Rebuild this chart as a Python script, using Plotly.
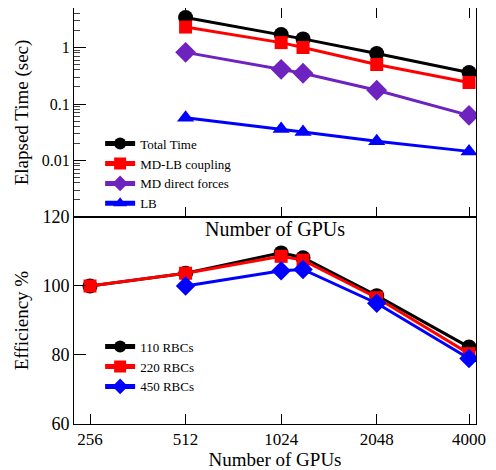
import plotly.graph_objects as go

# ---- data ----
gpus_time = [512, 1024, 1200, 2048, 4000]
total_time = [3.4, 1.7, 1.42, 0.78, 0.36]
mdlb_coupling = [2.3, 1.22, 1.0, 0.5, 0.24]
md_direct = [0.82, 0.41, 0.35, 0.175, 0.063]
lb_time = [0.057, 0.036, 0.032, 0.022, 0.0145]

gpus_eff = [256, 512, 1024, 1200, 2048, 4000]
eff_110 = [100, 103.7, 109.6, 108.2, 97.2, 82.3]
eff_220 = [100, 103.7, 108.6, 107.5, 96.6, 80.4]
gpus_eff_450 = [512, 1024, 1200, 2048, 4000]
eff_450 = [100, 104.4, 104.8, 95.0, 79.0]

top_ticks = [512, 1024, 2048, 4000]
bottom_ticks = [256, 512, 1024, 2048, 4000]
bottom_ticklabels = ["256", "512", "1024", "2048", "4000"]
time_ticks = [0.01, 0.1, 1]
time_ticklabels = ["0.01", "0.1", "1"]
time_minor_ticks = [m * d for d in (0.001, 0.01, 0.1, 1) for m in range(2, 10)]
eff_ticks = [60, 80, 100, 120]

FONT = "Liberation Serif"
PURPLE = "#6e22c0"

fig = go.Figure()

def add(x, y, name, color, symbol, size, xa, ya, legend):
    fig.add_trace(go.Scatter(
        x=x, y=y, name=name, mode="lines+markers",
        line=dict(color=color, width=3),
        marker=dict(color=color, symbol=symbol, size=size),
        xaxis=xa, yaxis=ya, legend=legend))

add(gpus_time, total_time, "Total Time", "black", "circle", 15, "x", "y", "legend")
add(gpus_time, mdlb_coupling, "MD-LB coupling", "red", "square", 13, "x", "y", "legend")
add(gpus_time, md_direct, "MD direct forces", PURPLE, "diamond", 16, "x", "y", "legend")
add(gpus_time, lb_time, "LB", "blue", "triangle-up", 15, "x", "y", "legend")

add(gpus_eff, eff_110, "110 RBCs", "black", "circle", 15, "x2", "y2", "legend2")
add(gpus_eff, eff_220, "220 RBCs", "red", "square", 13, "x2", "y2", "legend2")
add(gpus_eff_450, eff_450, "450 RBCs", "blue", "diamond", 15, "x2", "y2", "legend2")

xrange = [2.3578, 3.624]
split = 0.4976

axis_common = dict(showline=True, linecolor="black", linewidth=1, showgrid=False,
                   zeroline=False, ticks="inside", tickcolor="black", automargin=False)

fig.update_layout(
    width=488, height=462,
    margin=dict(l=66, r=20, t=0, b=46),
    paper_bgcolor="white", plot_bgcolor="white",
    font=dict(family=FONT, color="black"),
    showlegend=True,
    xaxis=dict(type="log", range=xrange, domain=[0, 1], anchor="y",
               tickvals=top_ticks, showticklabels=False, ticklen=10,
               mirror="allticks",
               title=dict(text="Number of GPUs", font=dict(size=20, family=FONT), standoff=5),
               **axis_common),
    yaxis=dict(type="log", range=[-3.0, 0.699], domain=[split, 1], anchor="x",
               tickvals=time_ticks, ticktext=time_ticklabels,
               ticklen=12, tickfont=dict(size=16, family=FONT), mirror=True,
               minor=dict(ticks="inside", ticklen=6, tickcolor="#444", showgrid=False,
                          tickmode="array", tickvals=time_minor_ticks),
               title=dict(text="Elapsed Time (sec)", font=dict(size=19, family=FONT), standoff=8),
               **axis_common),
    xaxis2=dict(type="log", range=xrange, domain=[0, 1], anchor="y2",
                tickvals=bottom_ticks, ticktext=bottom_ticklabels, ticklen=10,
                tickfont=dict(size=17, family=FONT), mirror=True,
                title=dict(text="Number of GPUs", font=dict(size=19, family=FONT), standoff=0),
                **axis_common),
    yaxis2=dict(range=[60, 120], domain=[0, split], anchor="x2",
                tickvals=eff_ticks, ticklen=12, mirror=True,
                tickfont=dict(size=18, family=FONT),
                title=dict(text="Efficiency %", font=dict(size=19, family=FONT), standoff=8),
                **axis_common),
    legend=dict(x=0.065, y=0.71, xanchor="left", yanchor="top",
                bgcolor="rgba(0,0,0,0)", font=dict(size=13, family=FONT),
                tracegroupgap=0, itemsizing="constant"),
    legend2=dict(x=0.065, y=0.222, xanchor="left", yanchor="top",
                 bgcolor="rgba(0,0,0,0)", font=dict(size=13, family=FONT),
                 tracegroupgap=0, itemsizing="constant"),
)

fig.write_html("out.html")
